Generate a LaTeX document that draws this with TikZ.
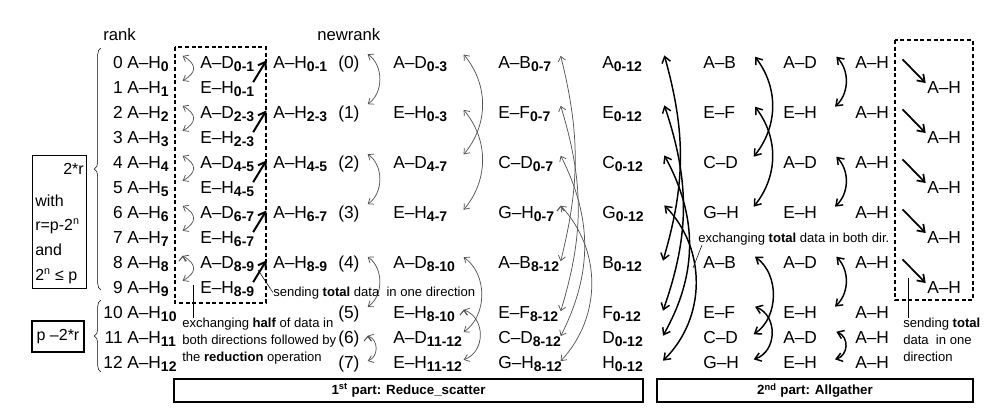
\documentclass[tikz,border=0pt]{standalone}
\usepackage{fontspec}
\setmainfont{Liberation Sans}
\usetikzlibrary{arrows.meta,positioning,decorations.pathreplacing}
\newcommand{\ix}[1]{\raisebox{-2.6pt}{\fontsize{10.5}{12}\selectfont\bfseries #1}}

\begin{document}
\begin{tikzpicture}[x=0.75pt,y=-0.75pt,
  lbl/.style={inner sep=0pt,anchor=base west,font=\fontsize{13}{15}\selectfont},
  num/.style={lbl,anchor=base east},
  head/.style={inner sep=0pt,anchor=base west,font=\fontsize{12.5}{15}\selectfont},
  note/.style={inner sep=0pt,align=left,font=\fontsize{9.8}{12.75}\selectfont},
  cond/.style={inner sep=0pt,font=\fontsize{12}{14}\selectfont},
  partbox/.style={draw,line width=1pt,inner sep=0pt,minimum height=17.25pt,font=\fontsize{10}{12}\selectfont\bfseries},
  garr/.style={<->,>={Straight Barb[length=3.5pt,width=5.5pt]},draw=gray!65!black,line width=0.55pt},
  barr/.style={<->,>={Straight Barb[length=4.5pt,width=6.5pt]},line width=1.1pt},
  tarr/.style={->,>={Straight Barb[length=5pt,width=7pt]},line width=1.5pt},
  box/.style={draw,dash pattern=on 3pt off 2pt,line width=0.8pt}]

\useasboundingbox (0,0) rectangle (1004,419);

\node[head] (rank)    at (103,40) {rank};
\node[head] (newrank) at (317,40) {newrank};

% ranks
\node[num] (k0)  at (123,68)  {0};  \node[lbl] (a0)  at (127,68)  {A–H\ix{0}};
\node[num] (k1)  at (123,93)  {1};  \node[lbl] (a1)  at (127,93)  {A–H\ix{1}};
\node[num] (k2)  at (123,118) {2};  \node[lbl] (a2)  at (127,118) {A–H\ix{2}};
\node[num] (k3)  at (123,143) {3};  \node[lbl] (a3)  at (127,143) {A–H\ix{3}};
\node[num] (k4)  at (123,168) {4};  \node[lbl] (a4)  at (127,168) {A–H\ix{4}};
\node[num] (k5)  at (123,193) {5};  \node[lbl] (a5)  at (127,193) {A–H\ix{5}};
\node[num] (k6)  at (123,218) {6};  \node[lbl] (a6)  at (127,218) {A–H\ix{6}};
\node[num] (k7)  at (123,243) {7};  \node[lbl] (a7)  at (127,243) {A–H\ix{7}};
\node[num] (k8)  at (123,268) {8};  \node[lbl] (a8)  at (127,268) {A–H\ix{8}};
\node[num] (k9)  at (123,293) {9};  \node[lbl] (a9)  at (127,293) {A–H\ix{9}};
\node[num] (k10) at (123,318) {10}; \node[lbl] (a10) at (127,318) {A–H\ix{10}};
\node[num] (k11) at (123,343) {11}; \node[lbl] (a11) at (127,343) {A–H\ix{11}};
\node[num] (k12) at (123,368) {12}; \node[lbl] (a12) at (127,368) {A–H\ix{12}};

\draw[decorate,decoration={brace,amplitude=5pt}] (101,290) -- (101,48);
\draw[decorate,decoration={brace,amplitude=5pt}] (101,372) -- (101,300);

% conditions
\node[draw,line width=0.8pt,anchor=north west,minimum width=40.5pt,minimum height=99.75pt,inner sep=0pt] (with) at (32,155) {};
\node[cond,anchor=base east] (tworr) at (84,174) {2*r};
\node[cond,anchor=base west] (c1) at (35,206) {with};
\node[cond,anchor=base west] (c2) at (35,230) {r=p-2\textsuperscript{n}};
\node[cond,anchor=base west] (c3) at (35,255) {and};
\node[cond,anchor=base west] (c4) at (35,280) {2\textsuperscript{n} ≤ p};
\node[draw,line width=0.8pt,cond,minimum width=39pt,minimum height=23.25pt] (rest) at (58,336.5) {p –2*r};

% reduction of the extra ranks
\draw[box] (175,47) rectangle (266,303);
\node[lbl] (d0) at (200,68)  {A–D\ix{0-1}};
\node[lbl] (d1) at (200,93)  {E–H\ix{0-1}};
\node[lbl] (d2) at (200,118) {A–D\ix{2-3}};
\node[lbl] (d3) at (200,143) {E–H\ix{2-3}};
\node[lbl] (d4) at (200,168) {A–D\ix{4-5}};
\node[lbl] (d5) at (200,193) {E–H\ix{4-5}};
\node[lbl] (d6) at (200,218) {A–D\ix{6-7}};
\node[lbl] (d7) at (200,243) {E–H\ix{6-7}};
\node[lbl] (d8) at (200,268) {A–D\ix{8-9}};
\node[lbl] (d9) at (200,293) {E–H\ix{8-9}};

\node[lbl] (c0) at (273,68)  {A–H\ix{0-1}};
\node[lbl] (c2) at (273,118) {A–H\ix{2-3}};
\node[lbl] (c4) at (273,168) {A–H\ix{4-5}};
\node[lbl] (c6) at (273,218) {A–H\ix{6-7}};
\node[lbl] (c8) at (273,268) {A–H\ix{8-9}};

% newrank
\node[lbl] (n0) at (338,68)  {(0)};
\node[lbl] (n1) at (338,118) {(1)};
\node[lbl] (n2) at (338,168) {(2)};
\node[lbl] (n3) at (338,218) {(3)};
\node[lbl] (n4) at (338,268) {(4)};
\node[lbl] (n5) at (338,318) {(5)};
\node[lbl] (n6) at (338,343) {(6)};
\node[lbl] (n7) at (338,368) {(7)};

\node[lbl] (u0)  at (393,68)  {A–D\ix{0-3}};
\node[lbl] (u2)  at (393,118) {E–H\ix{0-3}};
\node[lbl] (u4)  at (393,168) {A–D\ix{4-7}};
\node[lbl] (u6)  at (393,218) {E–H\ix{4-7}};
\node[lbl] (u8)  at (393,268) {A–D\ix{8-10}};
\node[lbl] (u10) at (393,318) {E–H\ix{8-10}};
\node[lbl] (u11) at (393,343) {A–D\ix{11-12}};
\node[lbl] (u12) at (393,368) {E–H\ix{11-12}};

\node[lbl] (v0)  at (498,68)  {A–B\ix{0-7}};
\node[lbl] (v2)  at (498,118) {E–F\ix{0-7}};
\node[lbl] (v4)  at (498,168) {C–D\ix{0-7}};
\node[lbl] (v6)  at (498,218) {G–H\ix{0-7}};
\node[lbl] (v8)  at (498,268) {A–B\ix{8-12}};
\node[lbl] (v10) at (498,318) {E–F\ix{8-12}};
\node[lbl] (v11) at (498,343) {C–D\ix{8-12}};
\node[lbl] (v12) at (498,368) {G–H\ix{8-12}};

\node[lbl] (w0)  at (602,68)  {A\ix{0-12}};
\node[lbl] (w2)  at (602,118) {E\ix{0-12}};
\node[lbl] (w4)  at (602,168) {C\ix{0-12}};
\node[lbl] (w6)  at (602,218) {G\ix{0-12}};
\node[lbl] (w8)  at (602,268) {B\ix{0-12}};
\node[lbl] (w10) at (602,318) {F\ix{0-12}};
\node[lbl] (w11) at (602,343) {D\ix{0-12}};
\node[lbl] (w12) at (602,368) {H\ix{0-12}};

% allgather
\node[lbl] (g0)  at (703,68)  {A–B};
\node[lbl] (g2)  at (703,118) {E–F};
\node[lbl] (g4)  at (703,168) {C–D};
\node[lbl] (g6)  at (703,218) {G–H};
\node[lbl] (g8)  at (703,268) {A–B};
\node[lbl] (g10) at (703,318) {E–F};
\node[lbl] (g11) at (703,343) {C–D};
\node[lbl] (g12) at (703,368) {G–H};

\node[lbl] (m0)  at (783,68)  {A–D};
\node[lbl] (m2)  at (783,118) {E–H};
\node[lbl] (m4)  at (783,168) {A–D};
\node[lbl] (m6)  at (783,218) {E–H};
\node[lbl] (m8)  at (783,268) {A–D};
\node[lbl] (m10) at (783,318) {E–H};
\node[lbl] (m11) at (783,343) {A–D};
\node[lbl] (m12) at (783,368) {E–H};

\node[lbl] (f0)  at (855,68)  {A–H};
\node[lbl] (f2)  at (855,118) {A–H};
\node[lbl] (f4)  at (855,168) {A–H};
\node[lbl] (f6)  at (855,218) {A–H};
\node[lbl] (f8)  at (855,268) {A–H};
\node[lbl] (f10) at (855,318) {A–H};
\node[lbl] (f11) at (855,343) {A–H};
\node[lbl] (f12) at (855,368) {A–H};

\draw[box] (895,40) rectangle (973,300);
\node[lbl] (z1) at (927,93)  {A–H};
\node[lbl] (z3) at (927,143) {A–H};
\node[lbl] (z5) at (927,193) {A–H};
\node[lbl] (z7) at (927,243) {A–H};
\node[lbl] (z9) at (927,293) {A–H};

% arrows, 1st part
\path[garr] ([shift={(-13pt,6pt)}]d0.west) edge[bend left=60,looseness=1.7] ([shift={(-13pt,6pt)}]d1.west)
([shift={(-13pt,6pt)}]d2.west) edge[bend left=60,looseness=1.7] ([shift={(-13pt,6pt)}]d3.west)
([shift={(-13pt,6pt)}]d4.west) edge[bend left=60,looseness=1.7] ([shift={(-13pt,6pt)}]d5.west)
([shift={(-13pt,6pt)}]d6.west) edge[bend left=60,looseness=1.7] ([shift={(-13pt,6pt)}]d7.west)
([shift={(-13pt,6pt)}]d8.west) edge[bend left=60,looseness=1.7] ([shift={(-13pt,6pt)}]d9.west);

\path[tarr] ([shift={(-1pt,5pt)}]d1.east) edge ([shift={(-5pt,2.5pt)}]c0.west)
([shift={(-1pt,5pt)}]d3.east) edge ([shift={(-5pt,2.5pt)}]c2.west)
([shift={(-1pt,5pt)}]d5.east) edge ([shift={(-5pt,2.5pt)}]c4.west)
([shift={(-1pt,5pt)}]d7.east) edge ([shift={(-5pt,2.5pt)}]c6.west)
([shift={(-1pt,5pt)}]d9.east) edge ([shift={(-5pt,2.5pt)}]c8.west);

\path[garr] ([shift={(6pt,7pt)}]n0.east) edge[bend left=55] ([shift={(6pt,7pt)}]n1.east)
([shift={(6pt,7pt)}]n2.east) edge[bend left=55] ([shift={(6pt,7pt)}]n3.east)
([shift={(6pt,5pt)}]n4.east) edge[bend left=55] ([shift={(6pt,5pt)}]n5.east)
([shift={(6pt,2pt)}]n6.east) edge[bend left=70,looseness=1.2] ([shift={(6pt,2pt)}]n7.east);

\path[garr] ([shift={(53pt,7pt)}]u0.west) edge[bend left=40] ([shift={(53pt,7pt)}]u4.west)
([shift={(53pt,3pt)}]u2.west) edge[bend left=40] ([shift={(53pt,3pt)}]u6.west)
([shift={(53pt,5pt)}]u8.west) edge[bend left=55] ([shift={(53pt,5pt)}]u11.west)
([shift={(53pt,3pt)}]u10.west) edge[bend left=70,looseness=1.2] ([shift={(53pt,3pt)}]u12.west);

\path[garr] ([shift={(47pt,6pt)}]v0.west) edge[bend left=14] ([shift={(47pt,2pt)}]v8.west)
([shift={(47pt,6pt)}]v2.west) edge[bend left=17] ([shift={(47pt,2pt)}]v10.west)
([shift={(47pt,6pt)}]v4.west) edge[bend left=27] ([shift={(47pt,2pt)}]v11.west)
([shift={(47pt,6pt)}]v6.west) edge[bend left=43] ([shift={(47pt,2pt)}]v12.west);

% arrows, 2nd part
\path[barr] ([shift={(-29pt,5pt)}]g0.west) edge[bend left=16] ([shift={(-30pt,1pt)}]g8.west)
([shift={(-29pt,5pt)}]g2.west) edge[bend left=19] ([shift={(-30pt,1pt)}]g10.west)
([shift={(-29pt,5pt)}]g4.west) edge[bend left=29] ([shift={(-30pt,1pt)}]g11.west)
([shift={(-29pt,5pt)}]g6.west) edge[bend left=45] ([shift={(-30pt,1pt)}]g12.west);

\path[barr] ([shift={(39pt,4pt)}]g0.west) edge[bend left=38] ([shift={(38pt,4pt)}]g4.west)
([shift={(39pt,4pt)}]g2.west) edge[bend left=38] ([shift={(38pt,4pt)}]g6.west)
([shift={(39pt,4pt)}]g8.west) edge[bend left=55] ([shift={(38pt,2pt)}]g11.west)
([shift={(39pt,4pt)}]g10.west) edge[bend left=70,looseness=1.2] ([shift={(38pt,2pt)}]g12.west);

\path[barr] ([shift={(40pt,4pt)}]m0.west) edge[bend left=45] ([shift={(39pt,4pt)}]m2.west)
([shift={(40pt,4pt)}]m4.west) edge[bend left=45] ([shift={(39pt,4pt)}]m6.west)
([shift={(40pt,4pt)}]m8.west) edge[bend left=45] ([shift={(39pt,4pt)}]m10.west)
([shift={(40pt,4pt)}]m11.west) edge[bend left=70,looseness=1.3] ([shift={(39pt,2pt)}]m12.west);

\path[tarr,line width=1.3pt] ([shift={(10pt,2pt)}]f0.east) edge ([shift={(-1pt,3pt)}]z1.west)
([shift={(10pt,2pt)}]f2.east) edge ([shift={(-1pt,3pt)}]z3.west)
([shift={(10pt,2pt)}]f4.east) edge ([shift={(-1pt,3pt)}]z5.west)
([shift={(10pt,2pt)}]f6.east) edge ([shift={(-1pt,3pt)}]z7.west)
([shift={(10pt,2pt)}]f8.east) edge ([shift={(-1pt,3pt)}]z9.west);

% notes
\node[note,anchor=north west] (half) at (182,318) {exchanging \textbf{half} of data in\\both directions followed by\\the \textbf{reduction} operation};
\coordinate (hp) at (193,285);
\draw (hp) -- (hp |- half.north);

\node[note,anchor=base west] (onedir) at (273,296) {sending \textbf{total} data\ \ in one direction};
\coordinate (sp) at (258,270);
\draw[thin] (sp) -- (onedir.west);

\node[note,anchor=base west] (bothdir) at (698,242) {exchanging \textbf{total} data in both dir.};
\coordinate (xp) at (693,268);
\draw[thin] (xp) -- ([xshift=3pt]bothdir.south west);

\node[note,anchor=north west] (send) at (903,318) {sending \textbf{total}\\data\ \ in one\\direction};
\coordinate (tp) at (908,278);
\draw (tp) -- (tp |- send.north);

% parts
\node[partbox,minimum width=351.75pt] (part1) at (408.5,390.5) {1\textsuperscript{st} part: Reduce\_scatter};
\node[partbox,minimum width=237pt] (part2) at (815,390.5) {2\textsuperscript{nd} part: Allgather};

\end{tikzpicture}
\end{document}
